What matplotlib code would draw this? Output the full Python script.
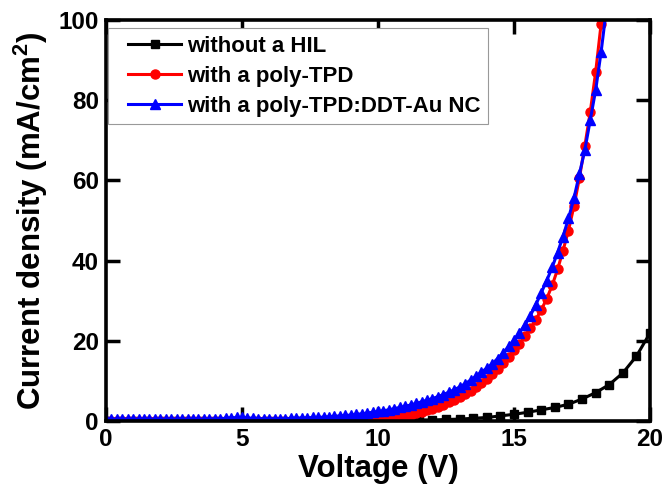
import numpy as np
import matplotlib
matplotlib.use("Agg")
import matplotlib.pyplot as plt
from matplotlib.lines import Line2D
from matplotlib.legend_handler import HandlerLine2D

plt.rcParams['font.family'] = ['Liberation Sans', 'DejaVu Sans']
plt.rcParams['font.weight'] = 'bold'
plt.rcParams['mathtext.fontset'] = 'custom'
plt.rcParams['mathtext.rm'] = 'Liberation Sans:bold'
plt.rcParams['mathtext.default'] = 'regular'

# --- data ---
v_black = [0.0, 0.5, 1.0, 1.5, 2.0, 2.5, 3.0, 3.5, 4.0, 4.5, 5.0, 5.5, 6.0, 6.5, 7.0, 7.5,
           8.0, 8.5, 9.0, 9.5, 10.0, 10.5, 11.0, 11.5, 12.0, 12.5, 13.0, 13.5, 14.0, 14.5,
           15.0, 15.5, 16.0, 16.5, 17.0, 17.5, 18.0, 18.5, 19.0, 19.5, 20.0]
j_black = [0.0, 0.0, 0.0, 0.0, 0.0, 0.0, 0.0, 0.0, 0.0, 0.0, 0.0, 0.0, 0.0, 0.0, 0.0, 0.0,
           0.0, 0.0, 0.05, 0.05, 0.1, 0.1, 0.2, 0.3, 0.3, 0.4, 0.5, 0.7, 0.9, 1.3,
           1.7, 2.2, 2.8, 3.4, 4.2, 5.5, 7.1, 9.1, 12.0, 16.2, 22.0]

v_red = [0.0, 0.2, 0.4, 0.6, 0.8, 1.0, 1.2, 1.4, 1.6, 1.8, 2.0, 2.2, 2.4, 2.6, 2.8, 3.0,
         3.2, 3.4, 3.6, 3.8, 4.0, 4.2, 4.4, 4.6, 4.8, 5.0, 5.2, 5.4, 5.6, 5.8, 6.0, 6.2,
         6.4, 6.6, 6.8, 7.0, 7.2, 7.4, 7.6, 7.8, 8.0, 8.2, 8.4, 8.6, 8.8, 9.0, 9.2, 9.4,
         9.6, 9.8, 10.0, 10.2, 10.4, 10.6, 10.8, 11.0, 11.2, 11.4, 11.6, 11.8, 12.0, 12.2,
         12.4, 12.6, 12.8, 13.0, 13.2, 13.4, 13.6, 13.8, 14.0, 14.2, 14.4, 14.6, 14.8, 15.0,
         15.2, 15.4, 15.6, 15.8, 16.0, 16.2, 16.4, 16.6, 16.8, 17.0, 17.2, 17.4, 17.6, 17.8,
         18.0, 18.2]
j_red = [0.1, 0.1, 0.1, 0.1, 0.1, 0.1, 0.1, 0.1, 0.1, 0.1, 0.1, 0.1, 0.1, 0.1, 0.1, 0.1,
         0.1, 0.1, 0.1, 0.1, 0.1, 0.1, 0.1, 0.1, 0.1, 0.1, 0.1, 0.1, 0.1, 0.1, 0.1, 0.1,
         0.1, 0.1, 0.1, 0.1, 0.1, 0.1, 0.1, 0.1, 0.1, 0.1, 0.1, 0.15, 0.15, 0.15, 0.2, 0.2,
         0.2, 0.3, 0.4, 0.5, 0.6, 0.8, 1.0, 1.3, 1.6, 1.9, 2.3, 2.7, 3.1, 3.6,
         4.1, 4.7, 5.3, 6.0, 6.8, 7.6, 8.5, 9.5, 10.6, 11.8, 13.1, 14.5, 16.0, 17.6,
         19.3, 21.1, 23.1, 25.3, 27.7, 30.5, 33.8, 37.8, 42.5, 47.5, 53.5, 60.5, 68.5, 77.0,
         87.0, 99.0]

v_blue = [0.0, 0.2, 0.4, 0.6, 0.8, 1.0, 1.2, 1.4, 1.6, 1.8, 2.0, 2.2, 2.4, 2.6, 2.8, 3.0,
          3.2, 3.4, 3.6, 3.8, 4.0, 4.2, 4.4, 4.6, 4.8, 5.0, 5.2, 5.4, 5.6, 5.8, 6.0, 6.2,
          6.4, 6.6, 6.8, 7.0, 7.2, 7.4, 7.6, 7.8, 8.0, 8.2, 8.4, 8.6, 8.8, 9.0, 9.2, 9.4,
          9.6, 9.8, 10.0, 10.2, 10.4, 10.6, 10.8, 11.0, 11.2, 11.4, 11.6, 11.8, 12.0, 12.2,
          12.4, 12.6, 12.8, 13.0, 13.2, 13.4, 13.6, 13.8, 14.0, 14.2, 14.4, 14.6, 14.8, 15.0,
          15.2, 15.4, 15.6, 15.8, 16.0, 16.2, 16.4, 16.6, 16.8, 17.0, 17.2, 17.4, 17.6, 17.8,
          18.0, 18.2, 18.4]
j_blue = [0.5, 0.5, 0.5, 0.5, 0.5, 0.5, 0.5, 0.5, 0.5, 0.5, 0.5, 0.5, 0.5, 0.5, 0.5, 0.5,
          0.5, 0.5, 0.5, 0.5, 0.6, 0.6, 0.7, 0.8, 0.9, 0.9, 0.8, 0.7, 0.6, 0.6, 0.6, 0.6,
          0.6, 0.6, 0.7, 0.7, 0.8, 0.8, 0.9, 0.9, 1.0, 1.1, 1.2, 1.3, 1.4, 1.5, 1.7, 1.8,
          2.0, 2.2, 2.4, 2.6, 2.8, 3.1, 3.4, 3.7, 4.0, 4.4, 4.8, 5.2, 5.6, 6.1,
          6.6, 7.2, 7.8, 8.5, 9.3, 10.2, 11.2, 12.2, 13.2, 14.3, 15.6, 17.0, 18.6, 20.2,
          22.0, 24.0, 26.3, 29.0, 32.0, 35.0, 38.3, 42.0, 46.0, 50.5, 55.5, 61.5, 67.5, 75.0,
          82.5, 92.0, 103.0]

labels = ['without a HIL', 'with a poly-TPD', 'with a poly-TPD:DDT-Au NC']
x_ticks = [0, 5, 10, 15, 20]
y_ticks = [0, 20, 40, 60, 80, 100]

fig = plt.figure(figsize=(6.62, 4.96), dpi=100)
ax = fig.add_axes([0.160, 0.151, 0.822, 0.809])

ax.plot(v_black, j_black, color='black', marker='s', markersize=6, lw=2.2, label=labels[0])
ax.plot(v_red, j_red, color='red', marker='o', markersize=6.5, lw=2.2, label=labels[1])
ax.plot(v_blue, j_blue, color='blue', marker='^', markersize=7, lw=2.2, label=labels[2])

ax.set_xlim(0, 20)
ax.set_ylim(0, 100)
ax.set_xticks(x_ticks)
ax.set_yticks(y_ticks)
ax.tick_params(direction='in', length=10, width=2.5, labelsize=17.5, top=True, right=True, pad=5)
for lab in ax.get_xticklabels() + ax.get_yticklabels():
    lab.set_fontweight('bold')
for s in ax.spines.values():
    s.set_linewidth(2.6)

ax.set_xlabel('Voltage (V)', fontsize=22.5, fontweight='bold', labelpad=2)
ax.set_ylabel(r'Current density (mA/cm$^2$)', fontsize=22.5, fontweight='bold', labelpad=6)

leg = ax.legend(loc='upper left', bbox_to_anchor=(0.0, 0.985),
                prop={'weight': 'bold', 'size': 16},
                frameon=True, fancybox=False, edgecolor='#999999', framealpha=1,
                handlelength=2.93, handletextpad=0.27, borderpad=0.35, labelspacing=0.4,
                borderaxespad=0.1,
                handler_map={Line2D: HandlerLine2D(xpad=0.55)})
leg.get_frame().set_linewidth(0.8)

fig.savefig('out.png', dpi=100)
